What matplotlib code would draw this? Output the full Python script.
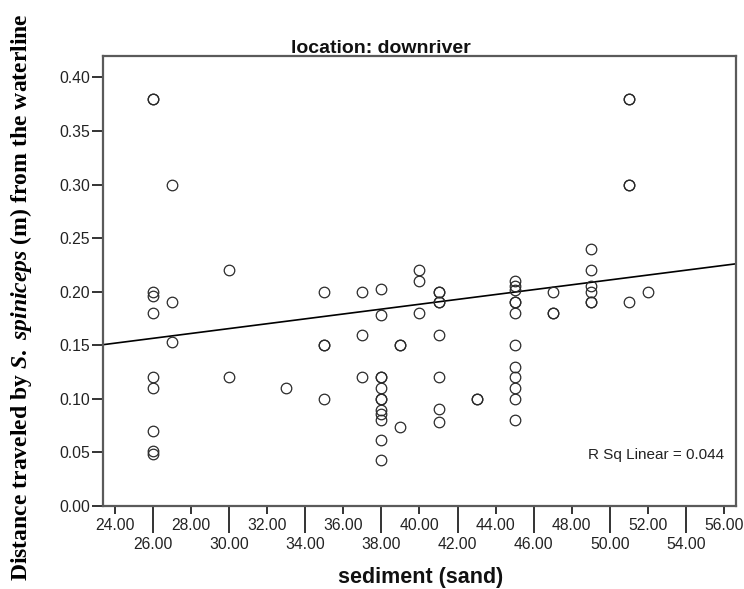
import numpy as np
import matplotlib
matplotlib.use("Agg")
from matplotlib import pyplot as plt

# sediment (sand) and distance from the waterline, downriver site
sand = [26, 26, 26, 26, 26, 26, 26, 26, 26, 26,
        27, 27, 27,
        30, 30,
        33,
        35, 35, 35, 35,
        37, 37, 37,
        38, 38, 38, 38, 38, 38, 38, 38, 38, 38, 38, 38,
        39, 39, 39,
        40, 40, 40,
        41, 41, 41, 41, 41, 41, 41, 41,
        43, 43,
        45, 45, 45, 45, 45, 45, 45, 45, 45, 45, 45, 45,
        47, 47, 47,
        49, 49, 49, 49, 49, 49,
        51, 51, 51, 51, 51,
        52]
distance = [0.38, 0.38, 0.200, 0.196, 0.18, 0.12, 0.11, 0.07, 0.051, 0.049,
            0.30, 0.19, 0.153,
            0.22, 0.12,
            0.11,
            0.20, 0.15, 0.15, 0.10,
            0.20, 0.16, 0.12,
            0.203, 0.178, 0.12, 0.12, 0.11, 0.10, 0.10, 0.09, 0.086, 0.08, 0.062, 0.043,
            0.15, 0.15, 0.074,
            0.22, 0.21, 0.18,
            0.20, 0.20, 0.19, 0.19, 0.16, 0.12, 0.091, 0.078,
            0.10, 0.10,
            0.21, 0.205, 0.202, 0.19, 0.19, 0.18, 0.15, 0.13, 0.12, 0.11, 0.10, 0.08,
            0.20, 0.18, 0.18,
            0.24, 0.22, 0.205, 0.20, 0.19, 0.19,
            0.38, 0.38, 0.30, 0.30, 0.19,
            0.20]

# linear fit (R Sq Linear = 0.044)
fit_intercept = 0.0975
fit_slope = 0.00227
r_sq_text = "R Sq Linear = 0.044"

x_major = [24, 28, 32, 36, 40, 44, 48, 52, 56]
x_minor = [26, 30, 34, 38, 42, 46, 50, 54]
y_ticks = [0.00, 0.05, 0.10, 0.15, 0.20, 0.25, 0.30, 0.35, 0.40]

plt.rcParams["font.family"] = ["Liberation Sans", "DejaVu Sans"]
plt.rcParams["mathtext.fontset"] = "custom"
plt.rcParams["mathtext.rm"] = "Liberation Serif:bold"
plt.rcParams["mathtext.it"] = "Liberation Serif:italic:bold"
plt.rcParams["mathtext.bf"] = "Liberation Serif:bold"

W, H = 744, 589
fig = plt.figure(figsize=(W / 100, H / 100), dpi=100)
ax = fig.add_axes([103 / W, 1 - 506 / H, (736 - 103) / W, (506 - 56) / H])

ax.plot(sand, distance, "o", ms=7.6, mfc="none", mec="#2a2a2a", mew=0.9,
        linestyle="none", zorder=3)

xlim = (23.37, 56.63)
xs = np.array(xlim)
ax.plot(xs, fit_intercept + fit_slope * xs, color="black", lw=1.2, zorder=2)

ax.set_xlim(*xlim)
ax.set_ylim(0, 0.42)

ax.set_xticks(x_major)
ax.set_xticklabels([f"{v:.2f}" for v in x_major])
ax.set_xticks(x_minor, minor=True)
ax.set_xticklabels([f"{v:.2f}" for v in x_minor], minor=True)
ax.set_yticks(y_ticks)
ax.set_yticklabels([f"{v:.2f}" for v in y_ticks])

for s in ax.spines.values():
    s.set_color("#5a5a5a")
    s.set_linewidth(1.6)

ax.tick_params(axis="x", which="major", length=6, width=1.4, pad=3,
               color="#333333", labelsize=11.3, labelcolor="#222222")
ax.tick_params(axis="x", which="minor", length=19.5, width=1.4, pad=2.5,
               color="#333333", labelsize=11.3, labelcolor="#222222")
ax.tick_params(axis="y", length=8, width=1.4, pad=1.5,
               color="#333333", labelsize=11.3, labelcolor="#222222")

ax.text(0.981, 0.113, r_sq_text, transform=ax.transAxes,
        ha="right", va="center", fontsize=11, color="#222222")

fig.text(381 / W, 1 - 53 / H, "location: downriver", ha="center",
         va="baseline", fontsize=14, fontweight="bold", color="#111111")
fig.text(421 / W, 1 - 577 / H, "sediment (sand)", ha="center", va="center",
         fontsize=15.5, fontweight="bold", color="#111111")
fig.text(21 / W, 1 - 297 / H,
         r"$\mathrm{Distance\ traveled\ by\ }\mathit{S.\ spiniceps}"
         r"\mathrm{\ (m)\ from\ the\ waterline}$",
         rotation=90, ha="center", va="center", fontsize=17, color="black")

fig.savefig("out.png", dpi=100)
